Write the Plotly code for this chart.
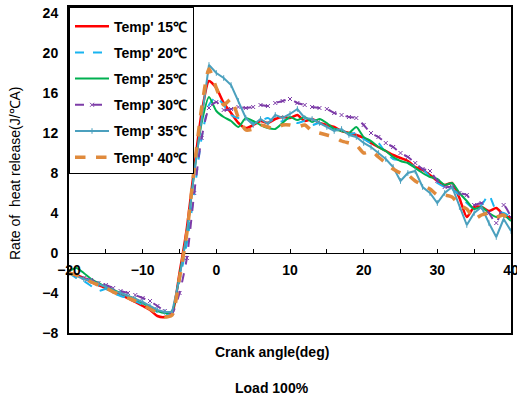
import plotly.graph_objects as go

crank_angle = list(range(-20, 41))

temp_15 = [-2.0, -2.2, -2.5, -2.9, -3.2, -3.5, -3.9, -4.2, -4.5, -4.9, -5.3, -5.7, -6.3, -6.4, -6.0,
           -2.0, 2.5, 8.5, 14.0, 17.2, 16.5, 15.0, 14.0, 13.0, 12.5, 12.8, 13.2, 13.0, 13.4, 13.6,
           13.5, 13.8, 13.2, 13.4, 13.0, 12.8, 12.6, 12.2, 12.0, 11.8, 11.5, 11.0, 10.6, 10.2, 9.8,
           9.5, 9.2, 8.6, 8.3, 7.8, 7.2, 6.8, 7.0, 5.5, 3.6, 4.6, 4.6, 4.2, 4.5, 3.8, 3.5]
temp_20 = [-2.0, -2.5, -2.8, -3.3, -3.8, -3.6, -4.0, -4.3, -4.5, -4.8, -5.2, -5.5, -5.9, -6.1, -6.0,
           -2.8, 1.0, 6.0, 11.5, 14.8, 15.6, 14.8, 13.8, 13.5, 13.4, 13.0, 13.2, 13.5, 13.0, 13.2,
           13.5, 13.0, 13.2, 12.8, 13.0, 12.6, 12.4, 12.3, 11.9, 12.0, 11.4, 11.0, 11.0, 10.0, 9.4,
           9.3, 9.0, 8.6, 8.4, 7.6, 7.0, 6.6, 6.4, 5.8, 5.0, 4.4, 4.8, 5.8, 4.2, 4.0, 3.6]
temp_25 = [-1.8, -1.5, -2.0, -2.6, -3.0, -3.4, -3.7, -4.0, -4.3, -4.6, -5.0, -5.4, -5.8, -6.0, -5.8,
           -2.2, 2.0, 8.0, 13.0, 15.6, 14.2, 13.6, 13.2, 12.6, 13.5, 13.2, 12.8, 12.5, 12.4, 13.0,
           13.6, 13.3, 13.6, 13.1, 13.4, 13.0, 12.4, 12.2, 12.0, 12.6, 11.6, 11.2, 10.6, 10.2, 9.6,
           9.2, 9.0, 8.5, 8.0, 7.6, 7.4, 6.8, 7.0, 6.0, 5.2, 4.4, 4.6, 4.0, 3.6, 3.8, 3.2]
temp_30 = [-2.0, -2.2, -2.5, -2.7, -3.0, -3.2, -3.5, -3.8, -4.0, -4.2, -4.5, -4.8, -5.3, -5.8, -6.0,
           -4.0, -0.5, 6.0, 11.5, 14.5, 15.1, 14.3, 14.4, 14.6, 14.5, 14.6, 14.8, 14.7, 15.0, 15.2,
           15.4, 15.0, 14.8, 14.6, 14.5, 14.4, 14.0, 13.8, 13.6, 13.5, 12.8, 12.0, 11.6, 11.0, 10.6,
           10.0, 9.6, 9.0, 8.4, 8.2, 7.2, 6.6, 6.6, 6.0, 5.8, 4.8, 5.0, 4.0, 3.0, 4.8, 3.6]
temp_35 = [-2.0, -2.3, -2.6, -2.8, -3.1, -3.4, -3.8, -4.0, -4.3, -4.6, -4.9, -5.3, -5.7, -5.9, -5.9,
           -2.5, 2.0, 8.0, 13.5, 18.8, 18.0, 17.5, 16.8, 15.2, 13.5, 12.8, 13.4, 12.9, 13.8, 13.5,
           13.9, 14.4, 13.5, 13.4, 13.0, 12.6, 12.2, 12.4, 11.8, 11.6, 11.0, 10.6, 10.0, 9.4, 8.6,
           7.2, 8.0, 8.2, 6.6, 6.0, 5.0, 6.0, 6.6, 4.6, 2.8, 4.0, 4.6, 3.0, 1.6, 3.4, 2.2]
temp_40 = [-2.0, -2.2, -2.5, -2.9, -3.2, -3.5, -3.9, -4.2, -4.5, -4.8, -5.2, -5.6, -6.0, -6.4, -6.2,
           -2.5, 2.0, 8.5, 14.5, 18.4, 16.5, 14.8, 15.4, 13.5, 12.3, 12.4, 12.8, 12.6, 12.4, 12.8,
           12.8, 12.6, 12.8, 12.2, 12.0, 11.8, 11.6, 11.2, 11.0, 10.8, 10.0, 10.2, 9.6, 9.0, 8.4,
           8.0, 7.8, 7.2, 6.8, 6.4, 5.8, 5.8, 5.6, 4.8, 4.4, 3.4, 3.8, 4.0, 3.6, 3.8, 3.0]

series_names = ["Temp' 15℃", "Temp' 20℃", "Temp' 25℃", "Temp' 30℃", "Temp' 35℃", "Temp' 40℃"]
y_ticks = [-8, -4, 0, 4, 8, 12, 16, 20, 24]

styles = [
    dict(color="#FF0000", width=2.5, dash="solid", shape="spline", marker=None),
    dict(color="#19B4F0", width=2, dash="dash", shape="spline", marker=None),
    dict(color="#00B050", width=2, dash="solid", shape="spline", marker=None),
    dict(color="#7D3CA8", width=2, dash="dash", shape="spline", marker="x-thin"),
    dict(color="#4BA0BE", width=2, dash="solid", shape="linear", marker="line-ns"),
    dict(color="#E08A3C", width=3.5, dash="dash", shape="spline", marker=None),
]

data = [temp_15, temp_20, temp_25, temp_30, temp_35, temp_40]

fig = go.Figure()
for i, (name, vals, st) in enumerate(zip(series_names, data, styles)):
    mode = "lines+markers" if st["marker"] else "lines"
    fig.add_trace(go.Scatter(
        x=crank_angle, y=vals, name=name, mode=mode,
        xaxis="x" if i == 0 else "x2",
        legendgroup=str(i),
        line=dict(color=st["color"], width=st["width"], dash=st["dash"], shape=st["shape"],
                  smoothing=0.6),
        marker=dict(symbol=st["marker"] or "circle", size=4,
                    line=dict(color=st["color"], width=1), color=st["color"]),
    ))

ymin, ymax = -8, 24.6
zero_pos = (0 - ymin) / (ymax - ymin)

fig.update_layout(
    width=517, height=397,
    margin=dict(l=69, r=6, t=7, b=64, autoexpand=False),
    paper_bgcolor="white", plot_bgcolor="white",
    showlegend=True,
    legend=dict(x=0, y=1, xanchor="left", yanchor="top",
                bgcolor="white", bordercolor="black", borderwidth=1,
                font=dict(family="Liberation Sans", size=14, color="black", weight="bold"),
                title=dict(text=" ", font=dict(size=2)),
                traceorder="grouped", tracegroupgap=5, itemwidth=34),
    xaxis=dict(range=[-20, 40], showline=True, mirror=True, linecolor="black", linewidth=2,
               showticklabels=False, ticks="", showgrid=False, zeroline=False, automargin=False),
    xaxis2=dict(range=[-20, 40], overlaying="x", anchor="free", position=zero_pos,
                side="bottom", showline=False, showgrid=False, zeroline=False, automargin=False,
                tickmode="linear", tick0=-20, dtick=10, ticks="inside", ticklen=4,
                tickcolor="black", ticklabeloverflow="allow", ticklabelstandoff=7,
                minor=dict(dtick=5, tick0=-20, ticks="inside", ticklen=4, tickcolor="black"),
                tickfont=dict(family="Liberation Sans", size=14, color="black", weight="bold")),
    yaxis=dict(range=[ymin, ymax], showline=True, mirror=True, linecolor="black", linewidth=2,
               tickvals=y_ticks, ticks="", showgrid=False, automargin=False,
               zeroline=True, zerolinecolor="black", zerolinewidth=1,
               ticklabelstandoff=6,
               tickfont=dict(family="Liberation Sans", size=14, color="black", weight="bold")),
    annotations=[
        dict(text="Rate of  heat release(J/℃A)", xref="paper", yref="paper",
             x=(15 - 69) / 442, y=(333 - 173) / 326, xanchor="center", yanchor="middle",
             showarrow=False, textangle=-90,
             font=dict(family="Liberation Sans", size=14, color="black")),
        dict(text="<b>Crank angle(deg)</b>", xref="paper", yref="paper",
             x=(272 - 69) / 442, y=(333 - 352) / 326, xanchor="center", yanchor="middle",
             showarrow=False,
             font=dict(family="Liberation Sans", size=14, color="black")),
        dict(text="<b>Load 100%</b>", xref="paper", yref="paper",
             x=(272 - 69) / 442, y=(333 - 388) / 326, xanchor="center", yanchor="middle",
             showarrow=False,
             font=dict(family="Liberation Sans", size=14, color="black")),
    ],
)

fig.write_html("out.html")
